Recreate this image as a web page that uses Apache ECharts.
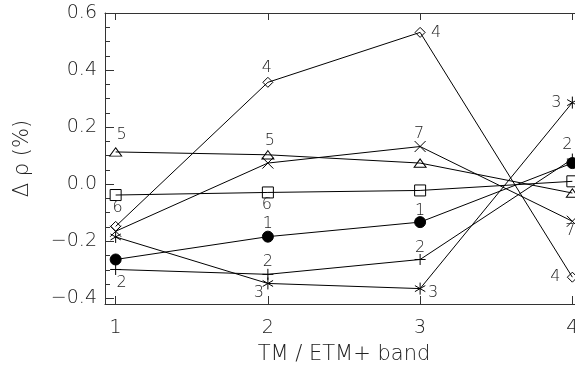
<!DOCTYPE html>
<html>
<head>
<meta charset="utf-8">
<script src="https://cdn.jsdelivr.net/npm/echarts@6/dist/echarts.min.js"></script>
<style>
  html, body { margin: 0; padding: 0; background: #fff; }
  #main { width: 575px; height: 369px; }
</style>
</head>
<body>
<div id="main"></div>
<script>
var chartDom = document.getElementById('main');
var myChart = echarts.init(chartDom);
var option;

// band numbers on the x axis
let bands = [1, 2, 3, 4];
let xTicks = [1, 2, 3, 4];
let yTicks = [-0.4, -0.2, 0.0, 0.2, 0.4, 0.6];
let yMinorTicks = [-0.4, -0.35, -0.3, -0.25, -0.2, -0.15, -0.1, -0.05, 0, 0.05, 0.1, 0.15, 0.2, 0.25, 0.3, 0.35, 0.4, 0.45, 0.5, 0.55, 0.6];

// delta rho (%) for each of the 7 curves
let s1 = [-0.264, -0.184, -0.133, 0.074];
let s2 = [-0.299, -0.316, -0.264, 0.088];
let s3 = [-0.185, -0.348, -0.366, 0.286];
let s4 = [-0.148, 0.357, 0.532, -0.326];
let s5 = [0.113, 0.103, 0.074, -0.031];
let s6 = [-0.038, -0.029, -0.022, 0.010];
let s7 = [-0.165, 0.074, 0.132, -0.130];
let names = ['1', '2', '3', '4', '5', '6', '7'];

// where the number label sits next to each point (null = no label)
let labelOffsets = [
  [null, [0, -13], [0, -11], null],
  [[6, 13], [0, -12], [0, -12], [-5, -14]],
  [null, [-9, 9], [13, 4], [-16, 0]],
  [null, [-1, -14], [16, 0], [-17, 0]],
  [[6, -17], [2, -14], null, null],
  [[2, 13], [-1, 12], null, null],
  [null, null, [-1, -13], [-2, 10]]
];

let symbols = [
  { symbol: 'circle', size: 11, fill: '#000' },
  { symbol: 'path://M5,0L5,10M0,5L10,5', size: 11, fill: 'none' },
  { symbol: 'path://M5,0L5,10M0.67,2.5L9.33,7.5M0.67,7.5L9.33,2.5', size: 12, fill: 'none' },
  { symbol: 'path://M5,0L10,5L5,10L0,5Z', size: 10, fill: 'none' },
  { symbol: 'path://M6,0L12,10L0,10Z', size: [12, 10], fill: 'none' },
  { symbol: 'path://M0,0L10,0L10,10L0,10Z', size: 11, fill: 'none' },
  { symbol: 'path://M0,0L10,10M10,0L0,10', size: 11, fill: 'none' }
];

let allSeries = [s1, s2, s3, s4, s5, s6, s7];
let fontFam = 'DejaVu Sans';

let series = allSeries.map(function (vals, k) {
  return {
    type: 'line',
    name: names[k],
    symbol: symbols[k].symbol,
    symbolSize: symbols[k].size,
    symbolKeepAspect: true,
    lineStyle: { color: '#000', width: 1 },
    itemStyle: { color: symbols[k].fill, borderColor: '#000', borderWidth: 1 },
    emphasis: { disabled: true },
    animation: false,
    data: vals.map(function (v, i) {
      let item = { value: [bands[i], v] };
      let off = labelOffsets[k][i];
      if (off) {
        item.label = {
          show: true,
          position: 'inside',
          formatter: names[k],
          offset: off,
          color: '#222',
          fontFamily: fontFam,
          fontWeight: 200,
          fontSize: 16
        };
      }
      return item;
    })
  };
});

let axisLabelStyle = {
  color: '#222',
  fontFamily: fontFam,
  fontWeight: 200,
  fontSize: 19
};

option = {
  backgroundColor: '#fff',
  grid: { left: 105, top: 13, width: 478, bottom: 65, outerBoundsMode: 'none', containLabel: false },
  xAxis: [
    {
      type: 'value',
      position: 'bottom',
      min: 0.93,
      max: 4.07,
      name: 'TM / ETM+ band',
      nameLocation: 'middle',
      nameGap: 40,
      nameTextStyle: { color: '#222', fontFamily: fontFam, fontWeight: 200, fontSize: 21 },
      axisLine: { onZero: false, lineStyle: { color: '#333', width: 1 } },
      axisTick: { inside: true, length: 8, customValues: xTicks, lineStyle: { color: '#333' } },
      axisLabel: Object.assign({ margin: 15, customValues: xTicks }, axisLabelStyle),
      splitLine: { show: false }
    },
    {
      type: 'value',
      position: 'top',
      min: 0.93,
      max: 4.07,
      axisLine: { onZero: false, lineStyle: { color: '#333', width: 1 } },
      axisTick: { inside: true, length: 7, customValues: xTicks, lineStyle: { color: '#333' } },
      axisLabel: { show: false },
      splitLine: { show: false }
    }
  ],
  yAxis: [
    {
      type: 'value',
      position: 'left',
      min: -0.42,
      max: 0.6,
      name: 'Δ ρ (%)',
      nameLocation: 'middle',
      nameGap: 72,
      nameRotate: 90,
      nameTextStyle: { color: '#222', fontFamily: fontFam, fontWeight: 200, fontSize: 21 },
      axisLine: { onZero: false, lineStyle: { color: '#333', width: 1 } },
      axisTick: { inside: true, length: 9, customValues: yTicks, lineStyle: { color: '#333' } },
      axisLabel: Object.assign({
        margin: 8,
        customValues: yTicks,
        formatter: function (v) {
          return (v < -1e-9 ? '\u2212' : '') + Math.abs(v).toFixed(1);
        }
      }, axisLabelStyle),
      splitLine: { show: false }
    },
    {
      type: 'value',
      position: 'left',
      min: -0.42,
      max: 0.6,
      axisLine: { show: false },
      axisTick: { inside: true, length: 5, customValues: yMinorTicks, lineStyle: { color: '#333' } },
      axisLabel: { show: false },
      splitLine: { show: false }
    }
  ],
  series: series
};

option && myChart.setOption(option);
</script>
</body>
</html>
